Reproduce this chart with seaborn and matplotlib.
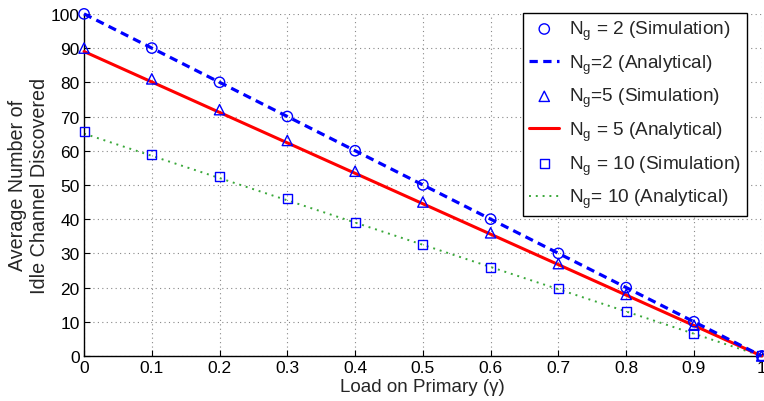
import numpy as np
import pandas as pd
import matplotlib
matplotlib.use("Agg")
import matplotlib.pyplot as plt
import seaborn as sns

load = [0, 0.1, 0.2, 0.3, 0.4, 0.5, 0.6, 0.7, 0.8, 0.9, 1.0]
sim_ng2 = [100, 90, 80, 70, 60, 50, 40, 30, 20, 10, 0]
ana_ng2 = [100, 90, 80, 70, 60, 50, 40, 30, 20, 10, 0]
sim_ng5 = [90, 81, 72, 63, 54, 45, 36, 27, 18, 9, 0]
ana_ng5 = [89, 80.1, 71.2, 62.3, 53.4, 44.5, 35.6, 26.7, 17.8, 8.9, 0]
sim_ng10 = [65.5, 59, 52.5, 46, 39, 32.7, 26, 19.6, 13, 6.5, 0]
ana_ng10 = [65, 58.5, 52, 45.5, 39, 32.5, 26, 19.5, 13, 6.5, 0]

xticks = [0, 0.1, 0.2, 0.3, 0.4, 0.5, 0.6, 0.7, 0.8, 0.9, 1]
xtick_labels = ["0", "0.1", "0.2", "0.3", "0.4", "0.5", "0.6", "0.7", "0.8", "0.9", "1"]
yticks = [0, 10, 20, 30, 40, 50, 60, 70, 80, 90, 100]

labels = [r"N$_\mathregular{g}$ = 2 (Simulation)",
          r"N$_\mathregular{g}$=2 (Analytical)",
          r"N$_\mathregular{g}$=5 (Simulation)",
          r"N$_\mathregular{g}$ = 5 (Analytical)",
          r"N$_\mathregular{g}$ = 10 (Simulation)",
          r"N$_\mathregular{g}$= 10 (Analytical)"]

sns.set_style("white")
plt.rcParams["font.family"] = ["Liberation Sans", "DejaVu Sans"]
plt.rcParams["mathtext.fontset"] = "custom"
plt.rcParams["mathtext.rm"] = "Liberation Sans"
plt.rcParams["mathtext.it"] = "Liberation Sans:italic"

fig = plt.figure(figsize=(7.64, 4.02), dpi=100)
ax = fig.add_axes([0.110, 0.112, 0.887, 0.851])

blue = "#0000ff"
sns.scatterplot(x=load, y=sim_ng2, ax=ax, marker="o", s=55, facecolor="none",
                edgecolor=blue, linewidth=1.0, label=labels[0], zorder=5, clip_on=False)
sns.lineplot(x=load, y=ana_ng2, ax=ax, color=blue, linestyle=(0, (2.6, 1.7)), linewidth=2.3,
             label=labels[1], zorder=4, clip_on=False)
sns.scatterplot(x=load, y=sim_ng5, ax=ax, marker="^", s=55, facecolor="none",
                edgecolor=blue, linewidth=1.0, label=labels[2], zorder=5, clip_on=False)
sns.lineplot(x=load, y=ana_ng5, ax=ax, color="#ff0000", linestyle="-", linewidth=2.2,
             label=labels[3], zorder=3, clip_on=False)
sns.scatterplot(x=load, y=sim_ng10, ax=ax, marker="s", s=42, facecolor="none",
                edgecolor=blue, linewidth=1.0, label=labels[4], zorder=5, clip_on=False)
sns.lineplot(x=load, y=ana_ng10, ax=ax, color="#3aa83a", linestyle=(0, (1, 2.5)), linewidth=1.4,
             label=labels[5], zorder=2, clip_on=False)

ax.set_xlim(0, 1)
ax.set_ylim(0, 100)
ax.set_xticks(xticks)
ax.set_xticklabels(xtick_labels)
ax.set_yticks(yticks)
ax.tick_params(axis="both", labelsize=12.5, direction="in", length=4, width=0.8,
               colors="black", left=True, bottom=True, pad=3)
ax.grid(True, linestyle=(0, (1, 3)), color="#888888", linewidth=0.8)
for s in ["top", "right"]:
    ax.spines[s].set_visible(False)
for s in ["left", "bottom"]:
    ax.spines[s].set_color("black")
    ax.spines[s].set_linewidth(1.0)

ax.set_xlabel("Load on Primary (γ)", fontsize=13.5, labelpad=2)
ax.set_ylabel("Average Number of\nIdle Channel Discovered", fontsize=14.2)
ax.yaxis.set_label_coords(-0.052, 0.5)

leg = ax.legend(loc="upper left", bbox_to_anchor=(0.685, 0.965), bbox_transform=fig.transFigure,
                fontsize=13.7, frameon=True, fancybox=False, edgecolor="black",
                framealpha=1, borderpad=0.3, labelspacing=0.55, handlelength=1.6,
                handletextpad=0.5, borderaxespad=0)
leg.get_frame().set_linewidth(1.0)

fig.savefig("out.png", dpi=100)
